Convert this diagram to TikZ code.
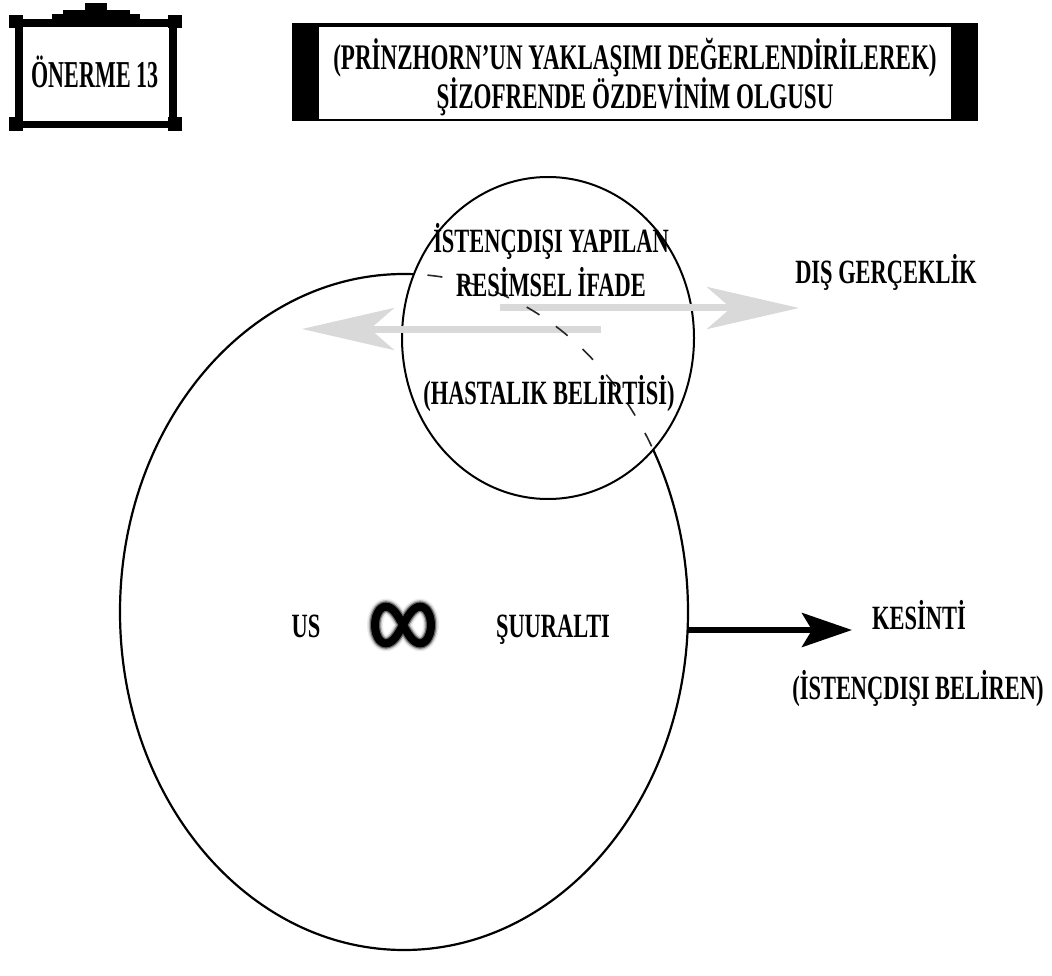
\documentclass[tikz,border=0pt]{standalone}
\usepackage{fontspec}
\setmainfont{Liberation Serif}[FakeStretch=0.66]
\newfontfamily\titlefont{Liberation Serif}[FakeStretch=0.64]
\newfontfamily\badgefont{Liberation Serif}[FakeStretch=0.58]
\usetikzlibrary{shapes.geometric,arrows.meta}

\begin{document}
\begin{tikzpicture}[x=1pt,y=-1pt,
  lbl/.style={font=\bfseries\fontsize{34}{40}\selectfont, inner sep=0pt, anchor=base},
  ring/.style={line width=2.2pt},
  hollow/.style={ellipse, inner sep=0pt, draw=none},
  grayarrow/.style={line width=7pt, color=black!15,
    -{Stealth[length=92pt,width=42pt,inset=24pt]}},
  blackarrow/.style={line width=6pt,
    -{Stealth[length=50pt,width=34pt,inset=10pt]}},
]
\useasboundingbox (0,0) rectangle (1052,976);

% --- framed label, top left
\fill (9,15) rectangle (23,28);
\fill (168,15) rectangle (182,28);
\fill (9,117) rectangle (23,131);
\fill (168,117) rectangle (182,131);
\fill (9,19) rectangle (182,27);
\fill (9,121) rectangle (182,128);
\fill (15,19) rectangle (23,128);
\fill (169,19) rectangle (177,128);
\fill (52,14) rectangle (140,20);
\fill (63,10) rectangle (130,14);
\fill (85,3) rectangle (107,10);
\node[lbl, font=\badgefont\bfseries\fontsize{38}{44}\selectfont] (onerme) at (95,88) {ÖNERME 13};

% --- title banner
\fill (292,23) rectangle (978,121);
\fill[white] (319,27) rectangle (951,119);
\node[lbl, font=\titlefont\bfseries\fontsize{36}{42}\selectfont] (title1) at (635,70) {(PRİNZHORN’UN YAKLAŞIMI DEĞERLENDİRİLEREK)};
\node[lbl, font=\titlefont\bfseries\fontsize{36}{42}\selectfont] (title2) at (635,109) {ŞİZOFRENDE ÖZDEVİNİM OLGUSU};

% --- the two ellipses
\node[hollow, minimum width=568pt, minimum height=676pt] (big) at (404,612) {};
\node[hollow, minimum width=292pt, minimum height=322pt] (small) at (548,338) {};

% visible part of the large ellipse: everything outside the small one
\begin{scope}[even odd rule]
  \clip (0,0) -- (1052,0) -- (1052,976) -- (0,976) -- cycle
    (small.center) ++(146,0)
    arc[start angle=0, end angle=360, x radius=146pt, y radius=161pt];
  \draw[ring] (big.center) ellipse [x radius=284pt, y radius=338pt];
\end{scope}
\draw[ring, line width=2pt] (small.center) ellipse [x radius=146pt, y radius=161pt];

% --- grey double movement
\coordinate (rfrom) at (500,308);
\coordinate (rto) at (799,308);
\coordinate (lfrom) at (601,329);
\coordinate (lto) at (302,329);
\draw[grayarrow] (rfrom) -- (rto);
\draw[grayarrow] (lfrom) -- (lto);

% hidden part of the large ellipse, inside the small one
\begin{scope}
  \clip (small.center) ellipse [x radius=146pt, y radius=161pt];
  \draw[line width=1.6pt, black!85, dash pattern=on 15pt off 20pt, dash phase=4pt]
    (big.center) ellipse [x radius=284pt, y radius=338pt];
\end{scope}

\node[lbl] (ifade1) at (551,253) {İSTENÇDIŞI YAPILAN};
\node[lbl] (ifade2) at (551,297) {RESİMSEL İFADE};
\node[lbl] (belirti) at (549,404) {(HASTALIK BELİRTİSİ)};
\node[lbl] (dis) at (886,284) {DIŞ GERÇEKLİK};

% --- inside the large ellipse
\node[lbl] (us) at (306,637) {US};
\node[lbl] (suur) at (553,637) {ŞUURALTI};
\node[minimum width=62pt, minimum height=44pt, inner sep=0pt] (inf) at (403,625) {};
\foreach \w/\o in {16/0.08, 13/0.2, 10.5/0.45, 8/1} {
  \draw[line width=\w pt, opacity=\o, line join=round]
    plot[smooth cycle, domain=0:350, samples=36]
    ({403+28*cos(\x)/(1+sin(\x)^2)}, {625+52*sin(\x)*cos(\x)/(1+sin(\x)^2)});
}

% --- interruption
\coordinate (kestip) at (852,630);
\draw[blackarrow] (kestip -| big.east) -- (kestip);
\node[lbl] (kes) at (919,629) {KESİNTİ};
\node[lbl] (belir) at (918,699) {(İSTENÇDIŞI BELİREN)};
\end{tikzpicture}
\end{document}
